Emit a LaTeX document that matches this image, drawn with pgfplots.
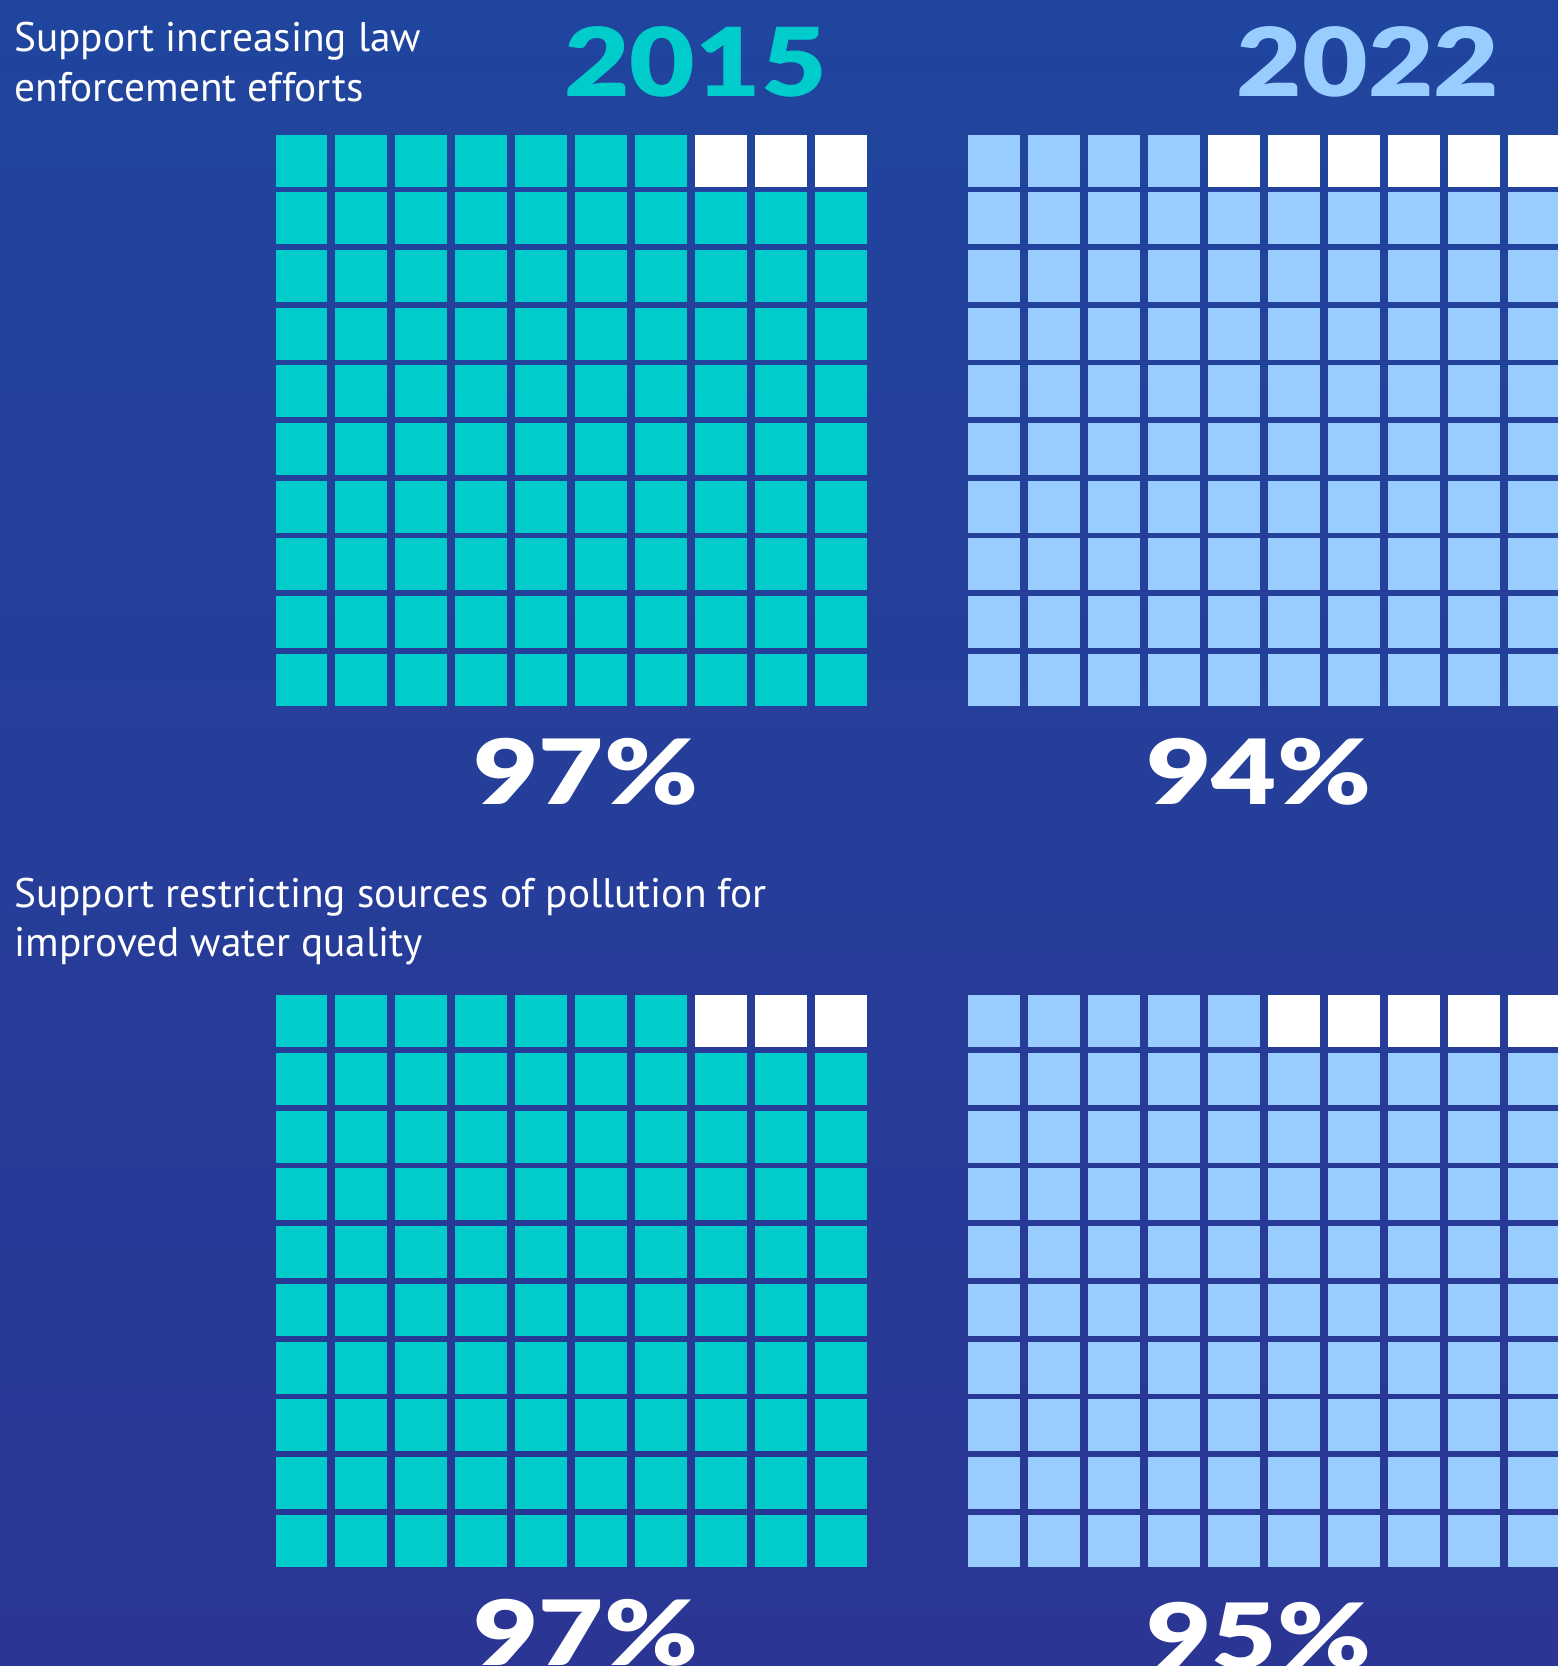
\documentclass[border=0pt]{standalone}
\usepackage{pgfplots}
\pgfplotsset{compat=1.18}
\usepackage{fontspec}
\setmainfont{PT Sans}
\newfontfamily\heavy{Lato Black}
\definecolor{bgtop}{RGB}{32,69,158}
\definecolor{bgbot}{RGB}{43,54,148}
\definecolor{tealc}{RGB}{0,204,204}
\definecolor{lblue}{RGB}{153,204,255}
\pgfplotsset{
  waffle/.style={
    scale only axis, width=180pt, height=173.1pt,
    xmin=0.5, xmax=10.5, ymin=0.5, ymax=10.5, y dir=reverse,
    axis lines=none, ticks=none, clip=false, anchor=north west,
  },
  cells/.style={only marks, color=#1, mark=square*, mark size=7.65pt,
    mark options={solid, fill=#1, draw=#1, line width=0pt}},
}
\begin{document}
\begin{tikzpicture}[x=0.3pt,y=-0.3pt]
\clip (0,0) rectangle (1558,1666);
\shade[top color=bgtop, bottom color=bgbot] (0,0) rectangle (1558,1666);
\coordinate (A) at (271.5,131.65);
\coordinate (B) at (963.5,131.65);
\coordinate (C) at (271.5,992.45);
\coordinate (D) at (963.5,992.45);
% ---- panel 1, 2015: 97%
\begin{axis}[waffle, at={(A)}]
\addplot[cells=tealc] coordinates {(1,1) (2,1) (3,1) (4,1) (5,1) (6,1) (7,1)
(1,2) (2,2) (3,2) (4,2) (5,2) (6,2) (7,2) (8,2) (9,2) (10,2)
(1,3) (2,3) (3,3) (4,3) (5,3) (6,3) (7,3) (8,3) (9,3) (10,3)
(1,4) (2,4) (3,4) (4,4) (5,4) (6,4) (7,4) (8,4) (9,4) (10,4)
(1,5) (2,5) (3,5) (4,5) (5,5) (6,5) (7,5) (8,5) (9,5) (10,5)
(1,6) (2,6) (3,6) (4,6) (5,6) (6,6) (7,6) (8,6) (9,6) (10,6)
(1,7) (2,7) (3,7) (4,7) (5,7) (6,7) (7,7) (8,7) (9,7) (10,7)
(1,8) (2,8) (3,8) (4,8) (5,8) (6,8) (7,8) (8,8) (9,8) (10,8)
(1,9) (2,9) (3,9) (4,9) (5,9) (6,9) (7,9) (8,9) (9,9) (10,9)
(1,10) (2,10) (3,10) (4,10) (5,10) (6,10) (7,10) (8,10) (9,10) (10,10)};
\addplot[cells=white] coordinates {(8,1) (9,1) (10,1)};
\end{axis}
% ---- panel 1, 2022: 94%
\begin{axis}[waffle, at={(B)}]
\addplot[cells=lblue] coordinates {(1,1) (2,1) (3,1) (4,1)
(1,2) (2,2) (3,2) (4,2) (5,2) (6,2) (7,2) (8,2) (9,2) (10,2)
(1,3) (2,3) (3,3) (4,3) (5,3) (6,3) (7,3) (8,3) (9,3) (10,3)
(1,4) (2,4) (3,4) (4,4) (5,4) (6,4) (7,4) (8,4) (9,4) (10,4)
(1,5) (2,5) (3,5) (4,5) (5,5) (6,5) (7,5) (8,5) (9,5) (10,5)
(1,6) (2,6) (3,6) (4,6) (5,6) (6,6) (7,6) (8,6) (9,6) (10,6)
(1,7) (2,7) (3,7) (4,7) (5,7) (6,7) (7,7) (8,7) (9,7) (10,7)
(1,8) (2,8) (3,8) (4,8) (5,8) (6,8) (7,8) (8,8) (9,8) (10,8)
(1,9) (2,9) (3,9) (4,9) (5,9) (6,9) (7,9) (8,9) (9,9) (10,9)
(1,10) (2,10) (3,10) (4,10) (5,10) (6,10) (7,10) (8,10) (9,10) (10,10)};
\addplot[cells=white] coordinates {(5,1) (6,1) (7,1) (8,1) (9,1) (10,1)};
\end{axis}
% ---- panel 2, 2015: 97%
\begin{axis}[waffle, at={(C)}]
\addplot[cells=tealc] coordinates {(1,1) (2,1) (3,1) (4,1) (5,1) (6,1) (7,1)
(1,2) (2,2) (3,2) (4,2) (5,2) (6,2) (7,2) (8,2) (9,2) (10,2)
(1,3) (2,3) (3,3) (4,3) (5,3) (6,3) (7,3) (8,3) (9,3) (10,3)
(1,4) (2,4) (3,4) (4,4) (5,4) (6,4) (7,4) (8,4) (9,4) (10,4)
(1,5) (2,5) (3,5) (4,5) (5,5) (6,5) (7,5) (8,5) (9,5) (10,5)
(1,6) (2,6) (3,6) (4,6) (5,6) (6,6) (7,6) (8,6) (9,6) (10,6)
(1,7) (2,7) (3,7) (4,7) (5,7) (6,7) (7,7) (8,7) (9,7) (10,7)
(1,8) (2,8) (3,8) (4,8) (5,8) (6,8) (7,8) (8,8) (9,8) (10,8)
(1,9) (2,9) (3,9) (4,9) (5,9) (6,9) (7,9) (8,9) (9,9) (10,9)
(1,10) (2,10) (3,10) (4,10) (5,10) (6,10) (7,10) (8,10) (9,10) (10,10)};
\addplot[cells=white] coordinates {(8,1) (9,1) (10,1)};
\end{axis}
% ---- panel 2, 2022: 95%
\begin{axis}[waffle, at={(D)}]
\addplot[cells=lblue] coordinates {(1,1) (2,1) (3,1) (4,1) (5,1)
(1,2) (2,2) (3,2) (4,2) (5,2) (6,2) (7,2) (8,2) (9,2) (10,2)
(1,3) (2,3) (3,3) (4,3) (5,3) (6,3) (7,3) (8,3) (9,3) (10,3)
(1,4) (2,4) (3,4) (4,4) (5,4) (6,4) (7,4) (8,4) (9,4) (10,4)
(1,5) (2,5) (3,5) (4,5) (5,5) (6,5) (7,5) (8,5) (9,5) (10,5)
(1,6) (2,6) (3,6) (4,6) (5,6) (6,6) (7,6) (8,6) (9,6) (10,6)
(1,7) (2,7) (3,7) (4,7) (5,7) (6,7) (7,7) (8,7) (9,7) (10,7)
(1,8) (2,8) (3,8) (4,8) (5,8) (6,8) (7,8) (8,8) (9,8) (10,8)
(1,9) (2,9) (3,9) (4,9) (5,9) (6,9) (7,9) (8,9) (9,9) (10,9)
(1,10) (2,10) (3,10) (4,10) (5,10) (6,10) (7,10) (8,10) (9,10) (10,10)};
\addplot[cells=white] coordinates {(6,1) (7,1) (8,1) (9,1) (10,1)};
\end{axis}
% ---- texts
\begin{scope}[every node/.style={inner sep=0pt, outer sep=0pt, text=white}]
\node[anchor=base west, font=\fontsize{12.4pt}{14pt}\selectfont] at (14.4,51) {Support increasing law};
\node[anchor=base west, font=\fontsize{12.4pt}{14pt}\selectfont] at (14.4,101) {enforcement efforts};
\node[anchor=base west, font=\fontsize{12.4pt}{14pt}\selectfont] at (14.4,907) {Support restricting sources of pollution for};
\node[anchor=base west, font=\fontsize{12.4pt}{14pt}\selectfont] at (14.4,956) {improved water quality};
\node[anchor=base, text=tealc, font=\heavy\fontsize{28.5pt}{30pt}\selectfont] at (695.5,96) {\scalebox{1.19}[1]{2015}};
\node[anchor=base, text=lblue, font=\heavy\fontsize{28.5pt}{30pt}\selectfont] at (1368,96) {\scalebox{1.19}[1]{2022}};
\node[anchor=base, font=\heavy\fontsize{27pt}{30pt}\selectfont] at (586,804) {\scalebox{1.25}[1]{97\%}};
\node[anchor=base, font=\heavy\fontsize{27pt}{30pt}\selectfont] at (1259,804) {\scalebox{1.25}[1]{94\%}};
\node[anchor=base, font=\heavy\fontsize{27pt}{30pt}\selectfont] at (586,1665) {\scalebox{1.25}[1]{97\%}};
\node[anchor=base, font=\heavy\fontsize{27pt}{30pt}\selectfont] at (1259,1668) {\scalebox{1.25}[1]{95\%}};
\end{scope}
\end{tikzpicture}
\end{document}
